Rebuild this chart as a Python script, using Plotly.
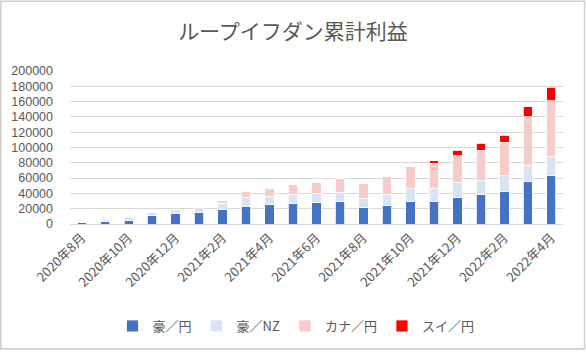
import plotly.graph_objects as go

months = ["2020年8月", "2020年9月", "2020年10月", "2020年11月", "2020年12月",
          "2021年1月", "2021年2月", "2021年3月", "2021年4月", "2021年5月",
          "2021年6月", "2021年7月", "2021年8月", "2021年9月", "2021年10月",
          "2021年11月", "2021年12月", "2022年1月", "2022年2月", "2022年3月",
          "2022年4月"]
aud_jpy = [2500, 3500, 5000, 10500, 13500, 15000, 19000, 23000, 25000, 27000,
           28500, 29000, 21000, 24000, 30000, 30000, 35000, 38000, 43000, 56000, 63000]
aud_nzd = [500, 2000, 3500, 4000, 5000, 6500, 8000, 11000, 11500, 11500,
           12000, 12000, 12500, 14500, 16000, 16500, 19500, 19000, 20000, 21000, 25000]
cad_jpy = [0, 0, 0, 0, 0, 1500, 4000, 8000, 10500, 12500,
           14000, 18500, 20000, 24000, 29500, 33000, 35000, 39500, 44000, 63000, 73000]
chf_jpy = [0, 0, 0, 0, 0, 0, 0, 0, 0, 0,
           0, 0, 0, 0, 0, 3000, 7000, 9000, 9000, 13000, 18000]
series_names = ["豪／円", "豪／NZ", "カナ／円", "スイ／円"]
tick_labels = months[::2]
y_ticks = list(range(0, 200001, 20000))

colors = ["#4472C4", "#DAE3F3", "#F8CBCB", "#FF0000"]
W, H = 586, 352
L, R, T, B = 70, 23, 71, 127
pw, ph = W - L - R, H - T - B

fig = go.Figure()
for name, vals, c in zip(series_names, [aud_jpy, aud_nzd, cad_jpy, chf_jpy], colors):
    fig.add_trace(go.Bar(x=months, y=vals, name=name, marker=dict(color=c, line=dict(color="white", width=0.8))))

font = "Noto Sans CJK JP"
fig.update_layout(
    width=W, height=H, barmode="stack", bargap=0.6,
    margin=dict(l=L, r=R, t=T, b=B),
    paper_bgcolor="white", plot_bgcolor="white",
    font=dict(family=font, color="#595959", size=12),
    title=dict(text="ループイフダン累計利益", x=0.5, xanchor="center", y=1 - 32 / H, yanchor="middle",
               font=dict(size=21, color="#595959", family=font)),
    legend=dict(orientation="h", x=(296 - L) / pw, xanchor="center", y=(T + ph - 326) / ph, yanchor="middle",
                traceorder="normal", font=dict(size=13, color="#595959"), itemwidth=30),
    showlegend=True,
)
fig.update_yaxes(range=[0, 200000], tickvals=y_ticks, ticktext=[str(v) for v in y_ticks],
                 showgrid=True, gridcolor="#D9D9D9", gridwidth=1.3, zeroline=False,
                 ticklabelstandoff=16, tickfont=dict(size=12.5, color="#595959", family="Liberation Sans"))
fig.update_xaxes(type="category", tickvals=tick_labels, ticktext=tick_labels, tickangle=-45,
                 showline=True, linecolor="#D9D9D9", linewidth=1.3, showgrid=False,
                 tickfont=dict(size=13, color="#595959"))
fig.add_shape(type="rect", xref="paper", yref="paper",
              x0=(-L + 0.8) / pw, x1=1 + (R - 1.5) / pw,
              y0=-(B - 1.3) / ph, y1=1 + (T - 0.8) / ph,
              line=dict(color="#D0D0D0", width=1.6))
fig.write_html("out.html")
